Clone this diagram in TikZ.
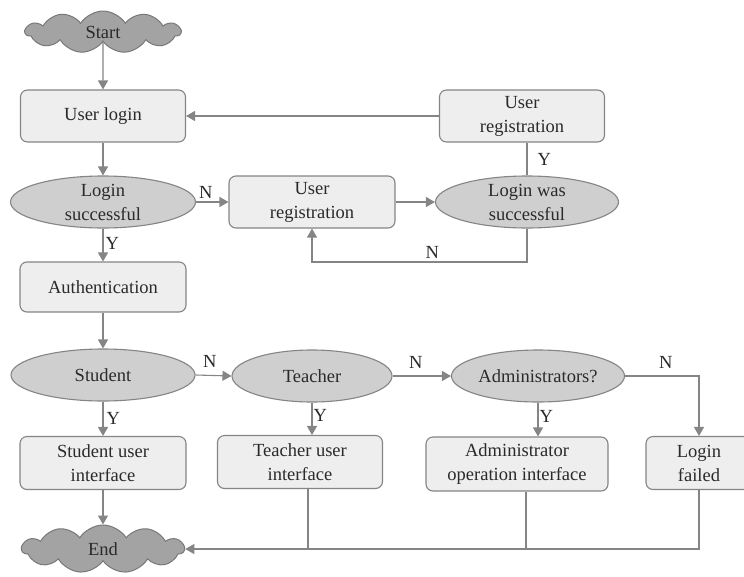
\documentclass[tikz,border=0pt]{standalone}
\usepackage{fontspec}
\setmainfont{Liberation Serif}
\usetikzlibrary{shapes.geometric,shapes.symbols,arrows.meta}
\definecolor{edgegray}{HTML}{858585}
\definecolor{boxfill}{HTML}{EEEEEE}
\definecolor{ellfill}{HTML}{CFCFCF}
\definecolor{cloudfill}{HTML}{A3A3A3}
\definecolor{textcol}{HTML}{2A2A2A}
\tikzset{
  every node/.style={font=\fontsize{18.5}{24}\selectfont, text=textcol},
  stepbox/.style={draw=edgegray, fill=boxfill, rounded corners=7pt, line width=1.1pt,
    minimum width=166pt, minimum height=52pt, align=center, inner sep=1pt},
  decision/.style={ellipse, draw=edgegray, fill=ellfill, line width=1.1pt,
    minimum width=184pt, minimum height=52pt, align=center, inner sep=0pt},
  terminal/.style={cloud, cloud puffs=11, cloud puff arc=115, aspect=4, draw=edgegray!90!black,
    fill=cloudfill, line width=1pt, align=center, inner sep=0pt},
  conn/.style={draw=edgegray, line width=1.1pt},
  arr/.style={conn, -{Triangle[width=10pt,length=9pt]}},
  lbl/.style={inner sep=0pt}
}
\begin{document}
\begin{tikzpicture}[x=1pt,y=-1pt]
\clip (0,0) rectangle (744,576);
\fill[white] (0,0) rectangle (744,576);

% terminals
\node[terminal, minimum width=155pt, minimum height=42pt] (start) at (103,32) {Start};
\node[terminal, minimum width=162pt, minimum height=48pt] (end) at (103,549) {End};

% login and registration
\node[stepbox, minimum width=165pt] (login) at (103,116) {User login};
\node[stepbox, minimum width=165pt] (regtop) at (522,116) {User\\registration};
\node[decision, minimum width=185pt] (lsucc) at (103,202) {Login\\successful};
\node[stepbox] (regmid) at (312,202) {User\\registration};
\node[decision, minimum width=183pt] (lwas) at (527,202) {Login was\\successful};
\node[stepbox, minimum height=50pt] (auth) at (103,287) {Authentication};

% role checks
\node[decision] (student) at (103,375) {Student};
\node[decision, minimum width=160pt] (teacher) at (312,376) {Teacher};
\node[decision, minimum width=173pt] (admin) at (538,376) {Administrators?};

% interfaces
\node[stepbox, minimum height=53pt] (sui) at (103,463) {Student user\\interface};
\node[stepbox, minimum width=165pt, minimum height=53pt] (tui) at (300,462) {Teacher user\\interface};
\node[stepbox, minimum width=182pt, minimum height=54pt] (aui) at (517,464) {Administrator\\operation interface};
\node[stepbox, minimum width=106pt, minimum height=53pt] (fail) at (699,463) {Login\\failed};

% connectors: login part
\draw[arr] (start.south) -- (login.north);
\draw[arr] (regtop.west) -- (login.east);
\draw[arr] (login.south) -- (lsucc.north);
\draw[arr] (lsucc.east) -- node[lbl, above, pos=0.3, yshift=3pt] {N} (regmid.west);
\draw[arr] (regmid.east) -- (lwas.west);
\draw[conn] (lwas.north) -- node[lbl, right, xshift=10pt] {Y} (lwas.north |- regtop.south);
\coordinate (loopR) at (lwas.south |- 0,262);
\coordinate (loopL) at (regmid.south |- 0,262);
\draw[arr] (lwas.south) -- (loopR) -- node[lbl, above, pos=0.44, yshift=3pt] {N} (loopL) -- (regmid.south);
\draw[arr] (lsucc.south) -- node[lbl, right, xshift=2pt, pos=0.45] {Y} (auth.north);
\draw[arr] (auth.south) -- (student.north);

% connectors: role checks
\draw[arr] (student.east) -- node[lbl, above, pos=0.4, yshift=7pt] {N} (teacher.west);
\draw[arr] (teacher.east) -- node[lbl, above, pos=0.4, yshift=7pt] {N} (admin.west);
\coordinate (failTop) at (fail.north |- admin.east);
\draw[arr] (admin.east) -- node[lbl, above, pos=0.55, yshift=7pt] {N} (failTop) -- (fail.north);
\draw[arr] (student.south) -- node[lbl, right, xshift=3pt] {Y} (sui.north);
\draw[arr] (teacher.south) -- node[lbl, right, xshift=1pt, pos=0.4] {Y} (teacher.south |- tui.north);
\draw[arr] (admin.south) -- node[lbl, right, xshift=1pt, pos=0.4] {Y} (admin.south |- aui.north);

% connectors: to end
\draw[arr] (sui.south) -- (end.north);
\coordinate (busR) at (fail.south |- end.east);
\draw[arr] (fail.south) -- (busR) -- (end.east);
\coordinate (tuiDrop) at (308,0);
\coordinate (auiDrop) at (526,0);
\draw[conn] (tuiDrop |- tui.south) -- (tuiDrop |- end.east);
\draw[conn] (auiDrop |- aui.south) -- (auiDrop |- end.east);
\end{tikzpicture}
\end{document}
